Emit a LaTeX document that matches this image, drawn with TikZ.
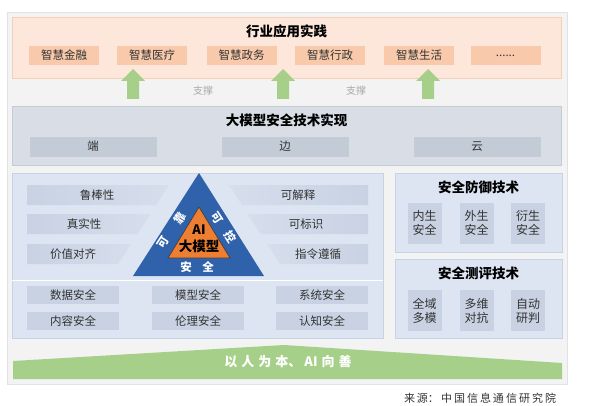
\documentclass[tikz,border=0pt]{standalone}
\usepackage{fontspec}
\setmainfont{Noto Sans CJK SC}
\definecolor{outerbg}{HTML}{F3F3F3}
\definecolor{outerln}{HTML}{E2E2E2}
\definecolor{peachbg}{HTML}{FDE7DA}
\definecolor{peachln}{HTML}{F6CFB8}
\definecolor{peachbox}{HTML}{F8CAAB}
\definecolor{arrowgreen}{HTML}{A6D08A}
\definecolor{graybg}{HTML}{D9DEE6}
\definecolor{grayln}{HTML}{C6CCD6}
\definecolor{graybox}{HTML}{C3CBD7}
\definecolor{bluebg}{HTML}{DDE5F3}
\definecolor{blueln}{HTML}{C6D2E6}
\definecolor{bluebox}{HTML}{C8D2E3}
\definecolor{bluebox2}{HTML}{D6DEEC}
\definecolor{tri}{HTML}{2F62AB}
\definecolor{orangec}{HTML}{EE7E32}
\definecolor{txt}{HTML}{333333}
\definecolor{lgray}{HTML}{A8A8A8}
\begin{document}
\begin{tikzpicture}[x=1pt,y=-1pt,
  titlef/.style={font=\fontsize{13.5}{16}\selectfont\bfseries, text=black, inner sep=0},
  lbl/.style={font=\fontsize{11.5}{14}\selectfont, text=txt, inner sep=0},
  pbox/.style={fill=peachbox, minimum width=70pt, minimum height=19pt, inner sep=0, font=\fontsize{11.5}{14}\selectfont, text=txt},
  gbox/.style={fill=graybox, draw=grayln, line width=0.4pt, minimum width=126pt, minimum height=19pt, inner sep=0, font=\fontsize{11.5}{14}\selectfont, text=txt},
  bbox/.style={fill=bluebox, minimum width=92pt, minimum height=18pt, inner sep=0, font=\fontsize{11.5}{14}\selectfont, text=txt},
  sbox/.style={fill=bluebox, draw=blueln, line width=0.4pt, minimum width=33pt, minimum height=40pt, inner sep=0, align=center, font=\fontsize{12}{14}\selectfont, text=txt},
  wtxt/.style={font=\fontsize{11.5}{14}\selectfont\bfseries, text=white, inner sep=0},
  garrow/.style={fill=arrowgreen}
]
\useasboundingbox (0,0) rectangle (596,406);
\fill[white] (0,0) rectangle (596,406);
\draw[outerln, fill=outerbg] (7,12) rectangle (567,384);

% ---- industry application
\draw[peachln, fill=peachbg] (12,17) rectangle (561,78);
\node[titlef] (apptitle) at (286.5,31) {行业应用实践};
\node[pbox] (a1) at (64,55.5) {智慧金融};
\node[pbox] (a2) at (152,55.5) {智慧医疗};
\node[pbox] (a3) at (241.5,55.5) {智慧政务};
\node[pbox] (a4) at (330,55.5) {智慧行政};
\node[pbox] (a5) at (419,55.5) {智慧生活};
\node[pbox] (a6) at (505.5,55.5) {......};

% ---- support arrows
\foreach \ax in {133,283,428}{
  \fill[garrow] (\ax,69) -- (\ax+12,81) -- (\ax+6,81) -- (\ax+6,99) -- (\ax-6,99) -- (\ax-6,81) -- (\ax-12,81) -- cycle;
}
\node[lbl, text=lgray, font=\fontsize{10}{12}\selectfont] (s1) at (203,91) {支撑};
\node[lbl, text=lgray, font=\fontsize{10}{12}\selectfont] (s2) at (356,91) {支撑};

% ---- implementation
\draw[grayln, fill=graybg] (12,106) rectangle (561,165);
\node[titlef] (imptitle) at (286.5,120) {大模型安全技术实现};
\node[gbox] (e1) at (93,146.5) {端};
\node[gbox] (e2) at (285,146.5) {边};
\node[gbox] (e3) at (477,146.5) {云};

% ---- left panel
\draw[blueln, fill=bluebg] (12,173) rectangle (383,338);
\draw[white, line width=0.8pt] (12,280) -- (383,280);

% trapezoid boxes left
\shade[left color=bluebox, right color=bluebox2] (27,185) -- (169,185) -- (156,205) -- (27,205) -- cycle;
\shade[left color=bluebox, right color=bluebox2] (27,214) -- (150.5,214) -- (137.5,234) -- (27,234) -- cycle;
\shade[left color=bluebox, right color=bluebox2] (27,244) -- (131,244) -- (118,264) -- (27,264) -- cycle;
\node[lbl] (l1) at (97,195) {鲁棒性};
\node[lbl] (l2) at (84,224) {真实性};
\node[lbl] (l3) at (73,254) {价值对齐};
% trapezoid boxes right
\shade[left color=bluebox2, right color=bluebox] (229,185) -- (368,185) -- (368,205) -- (242,205) -- cycle;
\shade[left color=bluebox2, right color=bluebox] (247.5,214) -- (368,214) -- (368,234) -- (260.5,234) -- cycle;
\shade[left color=bluebox2, right color=bluebox] (267,244) -- (368,244) -- (368,264) -- (280,264) -- cycle;
\node[lbl] (r1) at (298,195) {可解释};
\node[lbl] (r2) at (306,224) {可标识};
\node[lbl] (r3) at (318,254) {指令遵循};

% triangle
\fill[tri] (199,173) -- (264,276) -- (133,276) -- cycle;
\draw[fill=orangec, draw=black!75, line width=0.7pt] (199,207) -- (230,258) -- (168,258) -- cycle;
\node[font=\fontsize{13}{15}\selectfont\bfseries, text=black, inner sep=0] (ai) at (199,230) {AI};
\node[font=\fontsize{13.5}{15}\selectfont\bfseries, text=black, inner sep=0] (dmx) at (199,246) {大模型};
\node[wtxt, rotate=57] (k1) at (163,242) {可};
\node[wtxt, rotate=57] (k2) at (180,218) {靠};
\node[wtxt, rotate=-57] (k3) at (217,218) {可};
\node[wtxt, rotate=-57] (k4) at (230,237) {控};
\node[wtxt] (aq1) at (186,267) {安};
\node[wtxt] (aq2) at (208,267) {全};

% lower boxes
\node[bbox] (b1) at (73,295) {数据安全};
\node[bbox] (b2) at (198,295) {模型安全};
\node[bbox] (b3) at (322,295) {系统安全};
\node[bbox] (b4) at (73,321) {内容安全};
\node[bbox] (b5) at (198,321) {伦理安全};
\node[bbox] (b6) at (322,321) {认知安全};

% ---- right panels
\draw[blueln, fill=bluebg] (395,173) rectangle (562,252);
\node[titlef] (deftitle) at (478.5,187) {安全防御技术};
\node[sbox] (d1) at (424.5,223) {内生\\安全};
\node[sbox] (d2) at (476.5,223) {外生\\安全};
\node[sbox] (d3) at (528,223) {衍生\\安全};
\draw[blueln, fill=bluebg] (395,259) rectangle (562,338);
\node[titlef] (evtitle) at (478.5,273) {安全测评技术};
\node[sbox] (t1) at (424.5,310.5) {全域\\多模};
\node[sbox] (t2) at (476.5,310.5) {多维\\对抗};
\node[sbox] (t3) at (528,310.5) {自动\\研判};

% ---- green banner
\fill[arrowgreen] (13,361) -- (284,345) -- (562,363) -- (562,379) -- (13,379) -- cycle;
\node[font=\fontsize{13}{15}\selectfont\bfseries, text=white, inner sep=0] (motto) at (288,362) {以\hspace{4pt}人\hspace{4pt}为\hspace{4pt}本、\hspace{3pt}AI\hspace{4pt}向\hspace{4pt}善};

% ---- source
\node[font=\fontsize{11}{13}\selectfont, text=txt, inner sep=0] (src) at (480,398) {来\hspace{2pt}源：\hspace{2pt}中\hspace{2pt}国\hspace{2pt}信\hspace{2pt}息\hspace{2pt}通\hspace{2pt}信\hspace{2pt}研\hspace{2pt}究\hspace{2pt}院};
\end{tikzpicture}
\end{document}
